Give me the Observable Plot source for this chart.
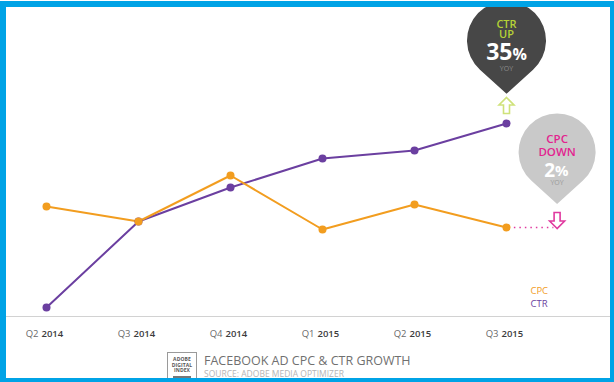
<!DOCTYPE html>
<html>
<head>
<meta charset="utf-8">
<script src="https://cdn.jsdelivr.net/npm/d3@7"></script>
<script src="https://cdn.jsdelivr.net/npm/@observablehq/plot@0.6"></script>
<style>
  html, body { margin: 0; padding: 0; background: #fff; }
  #wrap { position: relative; width: 614px; height: 382px; overflow: hidden; font-family: "Open Sans", sans-serif; }
  #chart { position: absolute; left: 0; top: 0; }
  #frame { position: absolute; left: 0; top: 1px; width: 614px; height: 381px; box-sizing: border-box;
           border-style: solid; border-color: #00a3e6; border-width: 6px 4px 4px 6px; pointer-events: none; }
  #logo { position: absolute; left: 167px; top: 352px; width: 30px; height: 32px; box-sizing: border-box;
          border: 1px solid #9a9a9a; background: #fff; text-align: center; }
  #logo div { font-size: 5px; line-height: 5.5px; color: #555; font-weight: 700; letter-spacing: 0.1px; }
  #logo .first { margin-top: 4px; }
  #logo .bar { width: 18px; height: 3px; background: #777; margin: 2px auto 0; }
  #title { position: absolute; left: 204px; top: 352px; font-size: 12.5px; color: #707070; font-weight: 400; white-space: nowrap; }
  #source { position: absolute; left: 204px; top: 368px; font-size: 8.5px; color: #b4b4b4; white-space: nowrap; }
</style>
</head>
<body>
<div id="wrap">
  <div id="chart"></div>
  <div id="logo"><div class="first">ADOBE</div><div>DIGITAL</div><div>INDEX</div><div class="bar"></div></div>
  <div id="title">FACEBOOK AD CPC &amp; CTR GROWTH</div>
  <div id="source">SOURCE: ADOBE MEDIA OPTIMIZER</div>
  <div id="frame"></div>
</div>
<script>
// ---- data (index values) ----
const quarters = ["Q2", "Q3", "Q4", "Q1", "Q2", "Q3"];
const years = ["2014", "2014", "2014", "2015", "2015", "2015"];
const cpc = [110, 95, 141, 87, 112, 89];
const ctr = [9, 95, 129, 158, 166, 193];
const seriesNames = ["CTR", "CPC"];
const seriesColors = ["#6b3fa0", "#f29d1f"];

// annotation texts
const ctrPinHead = "CTR\nUP";
const ctrPinValue = ["35", "%"];
const cpcPinHead = "CPC\nDOWN";
const cpcPinValue = ["2", "%"];
const yoyText = "YOY";

// ---- tables ----
const idx = d3.range(quarters.length);
const rows = [
  ...idx.map(i => ({i, series: "CTR", value: ctr[i]})),
  ...idx.map(i => ({i, series: "CPC", value: cpc[i]}))
];
const last = idx.length - 1;

// custom symbols
const teardrop = {
  draw(ctx, size) {
    const R = Math.sqrt(size / Math.PI);
    const d = 1.35 * R;
    const a = Math.acos(R / d);
    ctx.moveTo(0, d);
    ctx.lineTo(R * Math.cos(Math.PI / 2 - a), R * Math.sin(Math.PI / 2 - a));
    ctx.arc(0, 0, R, Math.PI / 2 - a, Math.PI / 2 + a, true);
    ctx.closePath();
  }
};
const arrow = {
  draw(ctx, size) {
    const s = Math.sqrt(size / Math.PI) / 8;
    const p = [[0, -8], [7.5, -0.5], [3, -0.5], [3, 8], [-3, 8], [-3, -0.5], [-7.5, -0.5]];
    ctx.moveTo(p[0][0] * s, p[0][1] * s);
    for (let k = 1; k < p.length; k++) ctx.lineTo(p[k][0] * s, p[k][1] * s);
    ctx.closePath();
  }
};

// annotation anchor points in data space
const ctrPin = {i: last, v: 276};
const cpcPin = {i: last + 0.55, v: 164.5};

const plot = Plot.plot({
  width: 614,
  height: 382,
  marginTop: 0,
  marginLeft: 0,
  marginRight: 0,
  marginBottom: 66,
  style: {fontFamily: "Open Sans, sans-serif", background: "transparent"},
  x: {type: "linear", domain: [0, last], range: [46, 506]},
  y: {domain: [0, 316], axis: null},
  color: {domain: seriesNames, range: seriesColors},
  marks: [
    Plot.ruleY([0], {stroke: "#d2d2d2", strokeWidth: 1.2}),
    Plot.axisX(idx, {tickFormat: i => quarters[i], textAnchor: "end", dx: -8, tickSize: 0, tickPadding: 14,
                     fontSize: 9.5, fill: "#6a6a6a", label: null}),
    Plot.axisX(idx, {tickFormat: i => years[i], textAnchor: "start", dx: -5, tickSize: 0, tickPadding: 14,
                     fontSize: 9.5, fontWeight: 600, fill: "#3c3c3c", label: null}),
    // dotted continuation of CPC
    Plot.link([cpc[last]], {x1: () => last + 0.08, x2: () => last + 0.51, y1: d => d, y2: d => d,
                            stroke: "#e0399f", strokeWidth: 1.5, strokeDasharray: "1.5,4"}),
    Plot.line(rows, {x: "i", y: "value", z: "series", stroke: "series", strokeWidth: 2}),
    Plot.dot(rows, {x: "i", y: "value", fill: "series", r: 4}),
    // legend labels
    Plot.text(seriesNames.slice().reverse(), {x: () => last + 0.26, y: (d, k) => 26 - 13 * k, text: d => d,
                            fill: d => seriesColors[seriesNames.indexOf(d)], textAnchor: "start", fontSize: 9.5}),
    // CTR pin
    Plot.dot([ctrPin], {x: "i", y: "v", r: 39.5, symbol: teardrop, fill: "#474747"}),
    Plot.text([ctrPinHead], {x: () => ctrPin.i, y: () => ctrPin.v + 11, text: d => d, fill: "#b6d236", fontSize: 11, fontWeight: 600, lineHeight: 0.98}),
    Plot.text([ctrPinValue[0]], {x: () => ctrPin.i, y: () => ctrPin.v - 12.5, text: d => d, fill: "#fff", fontSize: 23, fontWeight: 700, textAnchor: "end", dx: 6}),
    Plot.text([ctrPinValue[1]], {x: () => ctrPin.i, y: () => ctrPin.v - 14, text: d => d, fill: "#fff", fontSize: 16, fontWeight: 700, textAnchor: "start", dx: 6}),
    Plot.text([yoyText], {x: () => ctrPin.i, y: () => ctrPin.v - 28, text: d => d, fill: "#8c8c8c", fontSize: 7}),
    Plot.dot([ctrPin], {x: "i", y: () => 211, r: 8, symbol: arrow, fill: "#fff", stroke: "#cfe27a", strokeWidth: 1.6}),
    // CPC pin
    Plot.dot([cpcPin], {x: "i", y: "v", r: 38.5, symbol: teardrop, fill: "#c9c9c9"}),
    Plot.text([cpcPinHead], {x: () => cpcPin.i, y: () => cpcPin.v + 6.5, text: d => d, fill: "#e2238f", fontSize: 11.5, fontWeight: 600, lineHeight: 1.1}),
    Plot.text([cpcPinValue[0]], {x: () => cpcPin.i, y: () => cpcPin.v - 18.5, text: d => d, fill: "#fff", fontSize: 19, fontWeight: 700, textAnchor: "end", dx: -2}),
    Plot.text([cpcPinValue[1]], {x: () => cpcPin.i, y: () => cpcPin.v - 19.5, text: d => d, fill: "#fff", fontSize: 15, fontWeight: 700, textAnchor: "start", dx: -2}),
    Plot.text([yoyText], {x: () => cpcPin.i, y: () => cpcPin.v - 30.5, text: d => d, fill: "#9a9a9a", fontSize: 7}),
    Plot.dot([cpcPin], {x: "i", y: () => 96, r: 8, symbol: arrow, rotate: 180, fill: "#fff", stroke: "#e0399f", strokeWidth: 1.6})
  ]
});
document.getElementById("chart").appendChild(plot);
</script>
</body>
</html>
